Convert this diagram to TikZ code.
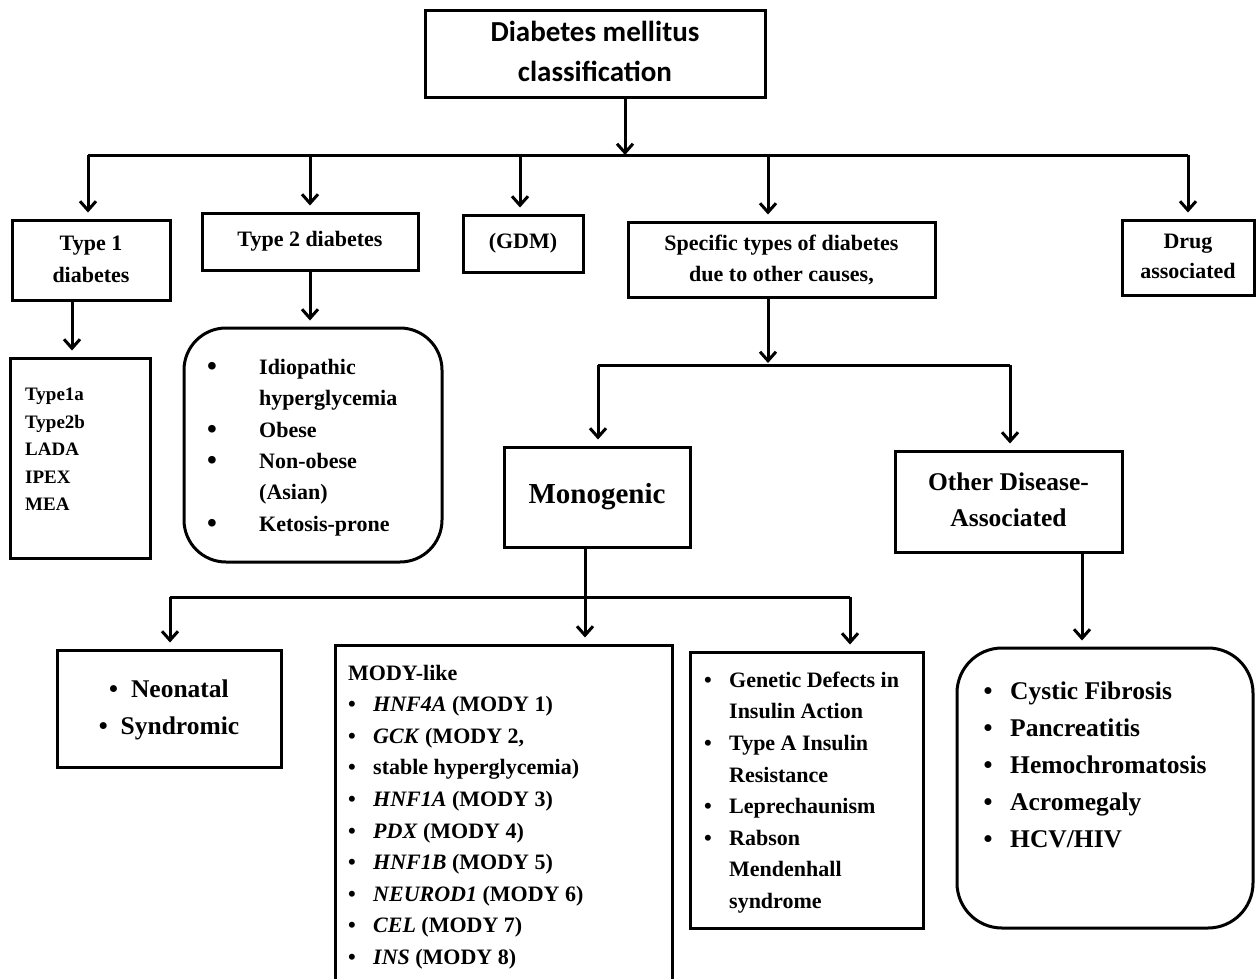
\documentclass[tikz,border=0pt]{standalone}
\usepackage{fontspec}
\setmainfont{Liberation Serif}
\newfontfamily\calibri{Carlito}
\usepackage{array}
\usetikzlibrary{arrows.meta}

\tikzset{
  boxnode/.style={draw, line width=3pt, inner sep=0pt},
  roundbox/.style={boxnode, rounded corners=42pt},
  txt/.style={inner sep=0pt},
  fz/.style 2 args={font=\bfseries\fontsize{#1}{#2}\selectfont},
  link/.style={line width=3pt},
  arr/.style={link, -{Straight Barb[length=9pt,width=16pt]}, shorten >=6pt}
}
\newcommand{\gene}[1]{\textit{#1}}
\newcommand{\bt}{\textbullet}
\newcommand{\bigbt}{\raisebox{-1pt}{\fontsize{28}{0}\selectfont\textbullet}}

\begin{document}
\begin{tikzpicture}[x=1pt,y=-1pt]
      \useasboundingbox (0,0) rectangle (1256,978);
      % top level
      \node[boxnode, minimum width=340pt, minimum height=87pt, font=\calibri\bfseries\fontsize{29}{40}\selectfont]
        (dm) at (595,53.5) {\begin{tabular}{@{}c@{}}Diabetes mellitus\\classification\end{tabular}};
      \coordinate (b0) at (625,155);
      \coordinate (b1) at (88,155);
      \coordinate (b2) at (310,155);
      \coordinate (b3) at (520,155);
      \coordinate (b4) at (768,155);
      \coordinate (b5) at (1188,155);
      \draw[link] (b1) -- (b5);
      \draw[link, -{Straight Barb[length=9pt,width=16pt]}] ([xshift=30pt]dm.south) -- (b0);

      % second row
      \node[boxnode, fz={22}{32}, minimum width=158pt, minimum height=80pt]
        (t1) at (91,260) {\begin{tabular}{@{}c@{}}Type 1\\diabetes\end{tabular}};
      \node[boxnode, fz={22}{32}, minimum width=216pt, minimum height=57pt]
        (t2) at (310,241.5) {Type 2 diabetes};
      \node[boxnode, fz={22}{32}, minimum width=120pt, minimum height=57pt]
        (gdm) at (523,243.5) {(GDM)};
      \node[boxnode, fz={22}{31}, minimum width=307pt, minimum height=75pt]
        (spec) at (781.5,259.5) {\begin{tabular}{@{}c@{}}Specific types of diabetes\\due to other causes,\end{tabular}};
      \node[boxnode, fz={22}{30}, minimum width=132pt, minimum height=75pt]
        (drug) at (1188,257.5) {\begin{tabular}{@{}c@{}}Drug\\associated\end{tabular}};
      \draw[arr] (b1) -- (b1 |- t1.north);
      \draw[arr] (b2) -- (b2 |- t2.north);
      \draw[arr] (b3) -- (b3 |- gdm.north);
      \draw[arr] (b4) -- (b4 |- spec.north);
      \draw[arr] (b5) -- (b5 |- drug.north);

      % type 1 and type 2 subtypes
      \node[boxnode, minimum width=140pt, minimum height=200pt] (t1sub) at (80,458) {};
      \node[txt, fz={19}{27.5}, anchor=west] (t1subtxt) at (25,450)
        {\begin{tabular}{@{}l@{}}Type1a\\Type2b\\LADA\\IPEX\\MEA\end{tabular}};
      \draw[arr] ([xshift=-19pt]t1.south) -- ([xshift=-8pt]t1sub.north);
      \node[roundbox, minimum width=258pt, minimum height=234pt] (t2sub) at (313,445) {};
      \node[txt, fz={22}{31.4}, anchor=west] (t2subtxt) at (207,446.5)
        {\begin{tabular}{@{}w{l}{52pt}@{}l@{}}
          \bigbt & Idiopathic\\ & hyperglycemia\\ \bigbt & Obese\\ \bigbt & Non-obese\\ & (Asian)\\ \bigbt & Ketosis-prone
        \end{tabular}};
      \draw[arr] (t2.south) -- (t2.south |- t2sub.north);

      % specific types
      \coordinate (s0) at (768,365);
      \coordinate (s1) at (598,365);
      \coordinate (s2) at (1010,365);
      \draw[link] (s1) -- (s2);
      \draw[link, -{Straight Barb[length=9pt,width=16pt]}, shorten >=2pt] (spec.south -| s0) -- (s0);
      \node[boxnode, fz={29}{36}, minimum width=186pt, minimum height=100pt]
        (mono) at (597,497) {Monogenic};
      \node[boxnode, fz={25.5}{36}, minimum width=227pt, minimum height=101pt]
        (odis) at (1008.5,501.5) {\begin{tabular}{@{}c@{}}Other Disease-\\Associated\end{tabular}};
      \draw[arr] (s1) -- (s1 |- mono.north);
      \draw[arr] (s2) -- (s2 |- odis.north);

      % monogenic subtypes
      \coordinate (m0) at (585,597);
      \coordinate (m1) at (170,597);
      \coordinate (m2) at (850,597);
      \draw[link] (m1) -- (m2);
      \node[boxnode, fz={25.5}{37}, minimum width=224pt, minimum height=117pt]
        (neo) at (169,708.5) {\begin{tabular}{@{}c@{}}\bt\hspace{13pt}Neonatal\\\bt\hspace{13pt}Syndromic\end{tabular}};
      \node[boxnode, minimum width=337pt, minimum height=350pt] (mody) at (503.5,820) {};
      \node[txt, fz={22}{31.6}, anchor=west] (modytxt) at (348,816)
        {\begin{tabular}{@{}w{l}{25pt}@{}l@{}}
          \multicolumn{2}{@{}l@{}}{MODY-like}\\
          \bt & \gene{HNF4A} (MODY 1)\\
          \bt & \gene{GCK} (MODY 2,\\
          \bt & stable hyperglycemia)\\
          \bt & \gene{HNF1A} (MODY 3)\\
          \bt & \gene{PDX} (MODY 4)\\
          \bt & \gene{HNF1B} (MODY 5)\\
          \bt & \gene{NEUROD1} (MODY 6)\\
          \bt & \gene{CEL} (MODY 7)\\
          \bt & \gene{INS} (MODY 8)
        \end{tabular}};
      \node[boxnode, minimum width=233pt, minimum height=276pt] (ins) at (806.5,790) {};
      \node[txt, fz={22}{31.6}, anchor=west] (instxt) at (704,791.5)
        {\begin{tabular}{@{}w{l}{25pt}@{}l@{}}
          \bt & Genetic Defects in\\ & Insulin Action\\ \bt & Type A Insulin\\ & Resistance\\
          \bt & Leprechaunism\\ \bt & Rabson\\ & Mendenhall\\ & syndrome
        \end{tabular}};
      \draw[link] ([xshift=-12pt]mono.south) -- (m0);
      \draw[arr] (m0) -- (m0 |- mody.north);
      \draw[arr] (m1) -- (m1 |- neo.north);
      \draw[arr] (m2) -- (m2 |- ins.north);

      % other disease-associated
      \node[roundbox, rounded corners=45pt, minimum width=296pt, minimum height=280pt] (odsub) at (1105,788) {};
      \node[txt, fz={25.5}{37}, anchor=west] (odsubtxt) at (983.5,766)
        {\begin{tabular}{@{}w{l}{26.5pt}@{}l@{}}
          \bt & Cystic Fibrosis\\ \bt & Pancreatitis\\ \bt & Hemochromatosis\\ \bt & Acromegaly\\ \bt & HCV/HIV
        \end{tabular}};
      \draw[arr] ([xshift=73.5pt]odis.south) -- ([xshift=-23pt]odsub.north);
\end{tikzpicture}
\end{document}
